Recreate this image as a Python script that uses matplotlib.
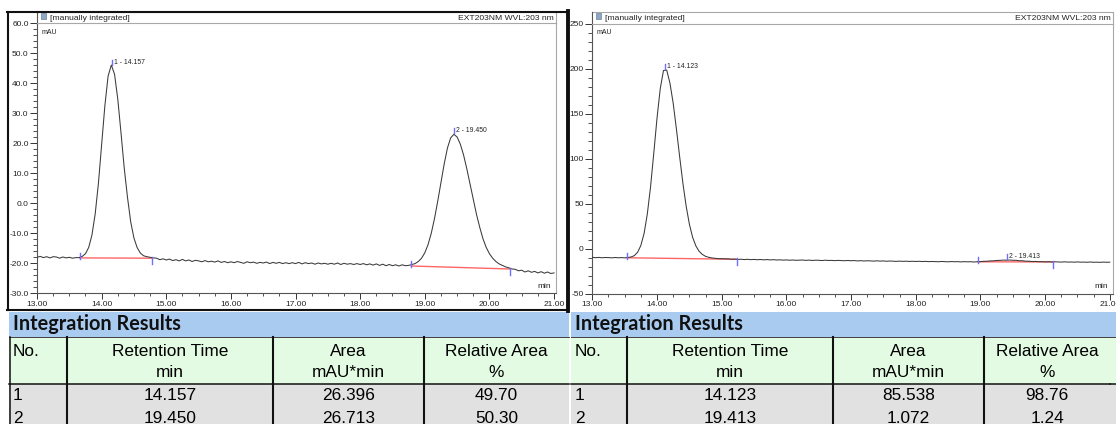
import numpy as np
import matplotlib
matplotlib.use("Agg")
import matplotlib.pyplot as plt
from matplotlib.patches import Rectangle
from matplotlib.ticker import MultipleLocator, FormatStrFormatter

plt.rcParams['font.family'] = ['Liberation Sans', 'DejaVu Sans']

W, H = 1116, 424
DPI = 100

# ---------------- data ----------------
# detector signal (mAU), one value every 0.05 min starting at 13.00 min
T_START, T_STEP = 13.0, 0.05

signal_a = [
    -18.1, -17.8, -18.2, -17.9, -18.3, -17.9, -18.0, -18.4, -18.0, -18.3,
    -18.1, -18.4, -18.2, -18.2, -17.8, -16.9, -14.8, -10.7, -3.7, 6.5,
    19.4, 32.4, 42.3, 46.0, 42.9, 34.6, 23.3, 11.6, 1.9, -6.3,
    -11.7, -14.9, -16.7, -17.6, -17.9, -18.1, -18.3, -18.4, -18.9, -18.6,
    -19.0, -18.7, -19.2, -18.9, -19.3, -18.8, -19.3, -19.0, -19.5, -19.1,
    -19.3, -19.6, -19.2, -19.6, -19.4, -19.7, -19.3, -19.8, -19.5, -19.9,
    -19.6, -19.9, -19.5, -19.8, -20.1, -19.6, -19.9, -19.7, -20.1, -19.8,
    -20.0, -19.7, -20.2, -19.8, -20.1, -19.8, -20.2, -19.9, -20.2, -19.9,
    -20.2, -19.8, -20.3, -19.9, -20.2, -20.0, -20.4, -20.0, -20.3, -20.1,
    -20.4, -20.1, -20.4, -20.0, -20.5, -20.1, -20.4, -20.2, -20.5, -20.2,
    -20.5, -20.2, -20.6, -20.3, -20.7, -20.3, -20.8, -20.4, -20.9, -20.5,
    -20.9, -20.6, -21.0, -20.6, -20.9, -20.8, -20.5, -20.2, -19.5, -18.4,
    -16.6, -13.9, -10.1, -5.2, 0.6, 6.8, 13.0, 18.3, 21.7, 22.9,
    22.0, 19.6, 16.0, 11.4, 6.3, 1.1, -3.8, -8.1, -11.9, -14.8,
    -16.9, -18.4, -19.5, -20.3, -20.8, -21.3, -21.6, -22.0, -22.1, -22.6,
    -22.4, -23.0, -22.6, -23.1, -22.8, -23.3, -22.9, -23.4, -23.0, -23.5,
    -23.3,
]

signal_b = [
    -9.8, -10.2, -9.9, -10.3, -10.0, -10.1, -10.4, -10.0, -10.3, -10.1,
    -10.4, -10.0, -9.4, -7.9, -4.2, 3.3, 16.6, 38.2, 68.4, 105.8,
    144.7, 177.5, 197.8, 198.2, 183.8, 161.5, 132.8, 102.1, 72.7, 47.4,
    27.2, 12.6, 3.0, -3.0, -6.5, -8.7, -9.8, -10.5, -10.9, -11.3,
    -11.4, -11.6, -11.5, -11.9, -11.8, -12.2, -11.9, -12.3, -12.0, -12.4,
    -12.1, -12.5, -12.2, -12.6, -12.3, -12.7, -12.4, -12.8, -12.6, -12.9,
    -12.7, -13.0, -12.8, -13.1, -12.9, -12.8, -13.2, -12.9, -13.3, -13.0,
    -13.1, -13.4, -13.0, -13.3, -13.2, -13.5, -13.2, -13.4, -13.6, -13.3,
    -13.6, -13.4, -13.8, -13.5, -13.9, -13.6, -13.8, -14.0, -13.7, -14.0,
    -13.8, -14.2, -13.9, -14.1, -14.3, -14.0, -14.3, -14.1, -14.4, -14.2,
    -14.4, -14.2, -14.5, -14.3, -14.6, -14.4, -14.5, -14.7, -14.4, -14.6,
    -14.8, -14.5, -14.7, -14.6, -14.9, -14.6, -14.8, -14.7, -15.0, -14.7,
    -14.6, -14.2, -14.2, -13.8, -13.7, -13.3, -13.2, -12.9, -13.0, -12.8,
    -13.1, -13.1, -13.6, -13.6, -14.1, -14.1, -14.5, -14.4, -14.7, -14.6,
    -14.9, -14.7, -15.0, -14.8, -14.9, -15.1, -14.8, -15.1, -15.0, -15.2,
    -14.9, -15.2, -15.1, -15.3, -15.0, -15.3, -15.2, -15.4, -15.1, -15.3,
    -15.2,
]

# integration results
peak_no = [1, 2]
rt_a = [14.157, 19.450]
area_a = [26.396, 26.713]
rel_area_a = [49.70, 50.30]
rt_b = [14.123, 19.413]
area_b = [85.538, 1.072]
rel_area_b = [98.76, 1.24]

# integration baselines: start/end time (min) and level (mAU) for each peak
base_a_start_t = [13.66, 18.79]
base_a_start_y = [-18.3, -21.0]
base_a_end_t = [14.78, 20.32]
base_a_end_y = [-18.4, -22.0]
base_b_start_t = [13.535, 18.96]
base_b_start_y = [-10.3, -14.8]
base_b_end_t = [15.23, 20.13]
base_b_end_y = [-12.0, -14.9]

x_ticks = [13, 14, 15, 16, 17, 18, 19, 20, 21]

# ---------------- styling ----------------
TRACE = '#3a3a3a'
RED = '#ff4a4a'
BLUE = '#6f6fff'
FRAME_DARK = '#555555'
FRAME_LIGHT = '#a8a8a8'
BAND_BLUE = '#a9cbf0'
BAND_GREEN = '#e3fbe3'
BAND_GRAY = '#e1e1e1'

fig = plt.figure(figsize=(W / DPI, H / DPI), dpi=DPI)
fig.patch.set_facecolor('white')

bg = fig.add_axes([0, 0, 1, 1], zorder=0)
bg.set_xlim(0, W)
bg.set_ylim(H, 0)
bg.axis('off')


def px_axes(x0, x1, ytop, ybot):
    return [x0 / W, 1 - ybot / H, (x1 - x0) / W, (ybot - ytop) / H]


def chromatogram(rect, signal, xlim, ylim, ymajor, yminor, yfmt,
                 rts, b0t, b0y, b1t, b1y, label_pad):
    ax = fig.add_axes(rect, zorder=2)
    ax.set_facecolor('none')
    t = T_START + T_STEP * np.arange(len(signal))
    sig = np.array(signal)
    ax.plot(t, sig, color=TRACE, lw=0.75, zorder=3)

    ax.set_xlim(*xlim)
    ax.set_ylim(*ylim)
    ax_h_px = rect[3] * H
    ppu = ax_h_px / (ylim[1] - ylim[0])  # pixels per mAU

    for s_t, s_y, e_t, e_y in zip(b0t, b0y, b1t, b1y):
        ax.plot([s_t, e_t], [s_y, e_y], color=RED, lw=1.0, alpha=0.85, zorder=2)
        ax.plot([s_t, s_t], [s_y - 1 / ppu, s_y + 5 / ppu], color=BLUE, lw=1.0, zorder=4)
        ax.plot([e_t, e_t], [e_y + 1 / ppu, e_y - 6 / ppu], color=BLUE, lw=1.0, zorder=4)

    for n, rt in zip(peak_no, rts):
        top = np.interp(rt, t, sig)
        ax.plot([rt, rt], [top + 1 / ppu, top + 6 / ppu], color=BLUE, lw=1.0, zorder=4)
        ax.text(rt + label_pad, top + 4 / ppu, f"{n} - {rt:.3f}", fontsize=4.9,
                color='#222222', va='center', ha='left', zorder=5)

    ax.set_xticks(x_ticks)
    ax.xaxis.set_major_formatter(FormatStrFormatter('%.2f'))
    ax.xaxis.set_minor_locator(MultipleLocator(0.25))
    ax.yaxis.set_major_locator(MultipleLocator(ymajor))
    ax.yaxis.set_minor_locator(MultipleLocator(yminor))
    ax.yaxis.set_major_formatter(FormatStrFormatter(yfmt))
    ax.tick_params(axis='x', which='major', length=4, width=0.7, pad=1.6,
                   labelsize=6, colors='#333333', labelcolor='#222222')
    ax.tick_params(axis='x', which='minor', length=2.2, width=0.6, colors='#333333')
    ax.tick_params(axis='y', which='major', length=5, width=0.7, pad=1,
                   labelsize=6, colors='#333333', labelcolor='#222222')
    ax.tick_params(axis='y', which='minor', length=2.8, width=0.6, colors='#333333')
    for side in ('left', 'bottom'):
        ax.spines[side].set_color(FRAME_DARK)
        ax.spines[side].set_linewidth(0.8)
    for side in ('top', 'right'):
        ax.spines[side].set_color(FRAME_LIGHT)
        ax.spines[side].set_linewidth(0.8)
    ax.text(5 / (rect[2] * W), 1 - 9 / ax_h_px, 'mAU', transform=ax.transAxes,
            fontsize=5, va='center', ha='left', color='#222222')
    ax.text(1 - 5 / (rect[2] * W), 7 / ax_h_px, 'min', transform=ax.transAxes,
            fontsize=6, va='center', ha='right', color='#222222')
    return ax


def header(x0, x1):
    bg.plot([x0, x1], [12, 12], color=FRAME_LIGHT, lw=0.8)
    bg.plot([x0, x0], [12, 24], color=FRAME_DARK, lw=0.8)
    bg.plot([x1, x1], [12, 24], color=FRAME_LIGHT, lw=0.8)
    bg.add_patch(Rectangle((x0 + 3.5, 13.3), 5.5, 5.8, fc='#8ea8c8', ec='#6d7f99', lw=0.5))
    bg.text(x0 + 13, 18.2, '[manually integrated]', fontsize=6.1, va='center',
            ha='left', color='#222222')
    bg.text(x1 - 2.5, 18.2, 'EXT203NM WVL:203 nm', fontsize=6.1, va='center',
            ha='right', color='#222222')


def results_table(x0, x1, cols, rts, areas, rels, left_rule):
    bg.add_patch(Rectangle((x0, 311.5), x1 - x0, 25.5, fc=BAND_BLUE, ec='none'))
    bg.add_patch(Rectangle((x0, 337), x1 - x0, 46.5, fc=BAND_GREEN, ec='none'))
    bg.add_patch(Rectangle((x0, 383.5), x1 - x0, 45, fc=BAND_GRAY, ec='none'))
    bg.plot([x0, x1], [337, 337], color='#404040', lw=0.7)
    bg.plot([x0, x1], [383.5, 383.5], color='#111111', lw=1.1)
    for c in cols:
        bg.plot([c, c], [337, 426], color='#111111', lw=1.5)
    if left_rule:
        bg.plot([x0 + 0.7, x0 + 0.7], [337, 426], color='#111111', lw=1.1)
    bg.text(x0 + 4, 324.5, 'Integration Results', fontsize=14.3, fontweight='bold',
            family=['Lato', 'DejaVu Sans'], va='center', ha='left', color='#111111')
    edges = [x0] + cols + [x1]
    centers = [(edges[i] + edges[i + 1]) / 2 for i in range(len(edges) - 1)]
    fs = 12.4
    bg.text(x0 + 4, 351.5, 'No.', fontsize=fs, va='center', ha='left')
    for cx, l1, l2 in zip(centers[1:], ['Retention Time', 'Area', 'Relative Area'],
                          ['min', 'mAU*min', '%']):
        bg.text(cx, 352, l1, fontsize=fs, va='center', ha='center')
        bg.text(cx, 372.5, l2, fontsize=fs, va='center', ha='center')
    for row_y, n, rt, ar, rl in zip([396, 418.5], peak_no, rts, areas, rels):
        bg.text(x0 + 4, row_y, f"{n}", fontsize=fs, va='center', ha='left')
        bg.text(centers[1], row_y, f"{rt:.3f}", fontsize=fs, va='center', ha='center')
        bg.text(centers[2], row_y, f"{ar:.3f}", fontsize=fs, va='center', ha='center')
        bg.text(centers[3], row_y, f"{rl:.2f}", fontsize=fs, va='center', ha='center')


# ---------------- left run ----------------
header(37, 556)
chromatogram(px_axes(37, 556, 23, 293), signal_a, (13.0, 21.03), (-30, 60), 10, 2, '%.1f',
             rt_a, base_a_start_t, base_a_start_y, base_a_end_t, base_a_end_y, 0.03)
# outer frame of the left panel
bg.plot([7, 567], [12, 12], color='#111111', lw=1.5)
bg.plot([7.5, 7.5], [12, 309.5], color='#111111', lw=1.5)
bg.plot([7, 567], [309.5, 309.5], color='#111111', lw=1.5)
bg.plot([567.5, 567.5], [11, 310.5], color='#111111', lw=2.8)
results_table(9, 569, [67, 273, 424], rt_a, area_a, rel_area_a, True)

# ---------------- right run ----------------
header(592, 1113)
chromatogram(px_axes(592, 1113, 23.5, 293.5), signal_b, (12.995, 21.05), (-50, 250), 50, 10, '%d',
             rt_b, base_b_start_t, base_b_start_y, base_b_end_t, base_b_end_y, 0.03)
results_table(571, 1110, [626.5, 833, 984], rt_b, area_b, rel_area_b, False)
bg.add_patch(Rectangle((1110, 311.5), 10, 120, fc=BAND_GRAY, ec='none'))
bg.add_patch(Rectangle((1110, 311.5), 10, 25.5, fc=BAND_BLUE, ec='none'))
bg.add_patch(Rectangle((1110, 337), 10, 46.5, fc=BAND_GREEN, ec='none'))
bg.plot([1110, 1120], [337, 337], color='#404040', lw=0.7)
bg.plot([1110, 1120], [383.5, 383.5], color='#111111', lw=1.1)

fig.savefig('out.png', dpi=DPI)
